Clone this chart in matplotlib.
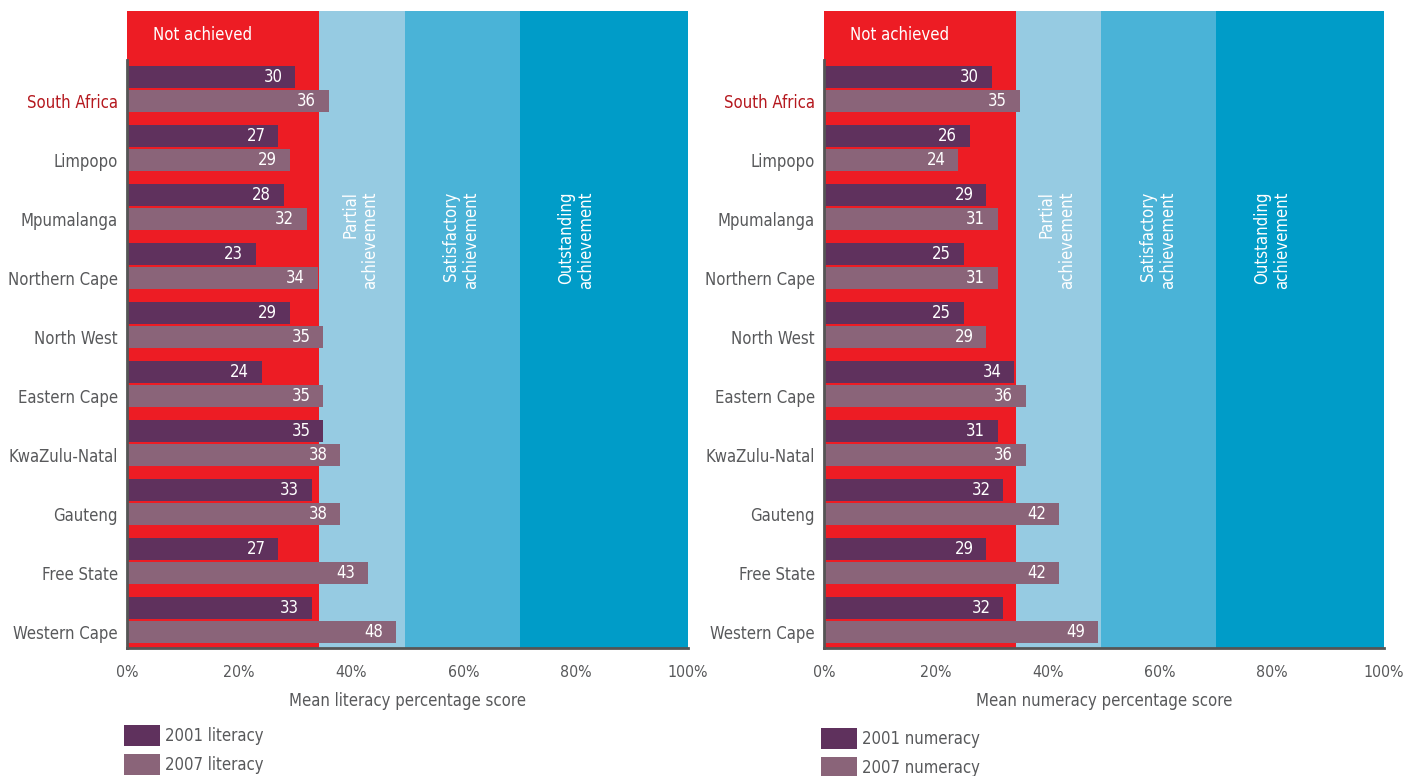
import matplotlib
matplotlib.use("Agg")
import matplotlib.pyplot as plt
import numpy as np

plt.rcParams['font.family'] = ['DejaVu Sans']
plt.rcParams['font.stretch'] = 'condensed'

regions = ["South Africa", "Limpopo", "Mpumalanga", "Northern Cape", "North West",
           "Eastern Cape", "KwaZulu-Natal", "Gauteng", "Free State", "Western Cape"]
lit_2001 = [30, 27, 28, 23, 29, 24, 35, 33, 27, 33]
lit_2007 = [36, 29, 32, 34, 35, 35, 38, 38, 43, 48]
num_2001 = [30, 26, 29, 25, 25, 34, 31, 32, 29, 32]
num_2007 = [35, 24, 31, 31, 29, 36, 36, 42, 42, 49]

band_edges = [0, 34.3, 49.5, 70, 100]
band_names = ["Not achieved", "Partial\nachievement", "Satisfactory\nachievement", "Outstanding\nachievement"]
band_colors = ["#ED1C24", "#96CBE2", "#4AB3D7", "#009CC8"]

xticks = [0, 20, 40, 60, 80, 100]
xtick_labels = ["0%", "20%", "40%", "60%", "80%", "100%"]

c2001 = "#5F315D"
c2007 = "#8A6479"
gray = "#58595B"
sa_red = "#B5191F"

fig = plt.figure(figsize=(14.04, 7.76), dpi=100)
W, H = 1404, 776
top_px, bot_px = 11, 648
FS = 12


def panel(left_px, right_px, v2001, v2007, xlabel, leg_labels, leg_top_px):
    ax = fig.add_axes([left_px / W, 1 - bot_px / H, (right_px - left_px) / W, (bot_px - top_px) / H])
    y = np.arange(len(regions))
    for i in range(4):
        ax.axvspan(band_edges[i], band_edges[i + 1], color=band_colors[i], lw=0, zorder=0)
    ax.text(13.5, -1.12, band_names[0], color="white", fontsize=FS, ha="center", va="center")
    for i, xc in zip(range(1, 4), [41.6, 59.6, 80.0]):
        ax.text(xc, 2.36, band_names[i], color="white", fontsize=FS, rotation=90,
                ha="center", va="center", multialignment="right", linespacing=1.15)
    h = 0.373
    off = 0.407
    b1 = ax.barh(y - off, v2001, height=h, color=c2001, zorder=2)
    b2 = ax.barh(y, v2007, height=h, color=c2007, zorder=2)
    for bars, vals in ((b1, v2001), (b2, v2007)):
        for rect, v in zip(bars, vals):
            ax.text(v - 2.3, rect.get_y() + rect.get_height() / 2, str(v), color="white",
                    fontsize=FS, ha="right", va="center", zorder=3)
    ax.set_xlim(0, 100)
    ax.set_ylim(9.271, -1.525)
    ax.set_yticks(y)
    ax.set_yticklabels(regions, fontsize=FS, color=gray)
    ax.get_yticklabels()[0].set_color(sa_red)
    ax.set_xticks(xticks)
    ax.set_xticklabels(xtick_labels, fontsize=11.4, color=gray)
    ax.tick_params(axis="both", length=0)
    ax.tick_params(axis="x", pad=12)
    ax.tick_params(axis="y", pad=6.5)
    ax.set_xlabel(xlabel, fontsize=FS, color=gray, labelpad=9)
    for s in ("top", "right"):
        ax.spines[s].set_visible(False)
    for s in ("left", "bottom"):
        ax.spines[s].set_color("#555555")
        ax.spines[s].set_linewidth(2)
        ax.spines[s].set_zorder(4)
    ax.spines["left"].set_bounds(-0.695, 9.271)
    axh = bot_px - top_px
    ax.legend([b1, b2], leg_labels, loc="upper left",
              bbox_to_anchor=(-0.005, (bot_px - leg_top_px) / axh), frameon=False,
              fontsize=FS, labelcolor=gray, handlelength=2.16, handleheight=1.6,
              handletextpad=0.3, labelspacing=0.45, borderpad=0, borderaxespad=0)
    return ax


panel(127, 688, lit_2001, lit_2007, "Mean literacy percentage score",
      ["2001 literacy", "2007 literacy"], 725)
panel(824, 1384, num_2001, num_2007, "Mean numeracy percentage score",
      ["2001 numeracy", "2007 numeracy"], 728)

fig.savefig("out.png", dpi=100)
